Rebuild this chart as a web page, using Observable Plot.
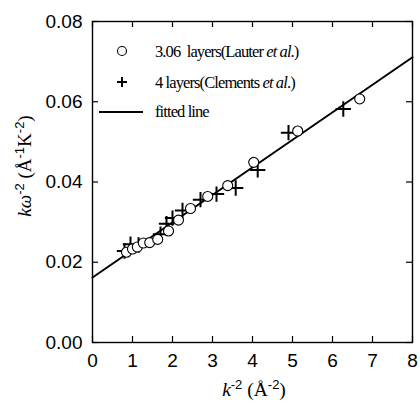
<!DOCTYPE html>
<html><head><meta charset="utf-8">
<script src="https://cdn.jsdelivr.net/npm/d3@7"></script>
<script src="https://cdn.jsdelivr.net/npm/@observablehq/plot@0.6"></script>
<style>body{margin:0;background:#fff}</style>
</head><body><div id="chart"></div>
<script>
const lauterX = [0.85, 1.0, 1.12, 1.27, 1.43, 1.63, 1.9, 2.15, 2.45, 2.88, 3.38, 4.03, 5.13, 6.68];
const lauterY = [0.0225, 0.0233, 0.0238, 0.0248, 0.0249, 0.0257, 0.0278, 0.0305, 0.0334, 0.0364, 0.0391, 0.0449, 0.0527, 0.0607];
const clementsX = [0.8, 0.95, 1.15, 1.7, 1.85, 2.0, 2.25, 2.7, 3.1, 3.58, 4.13, 4.9, 6.27];
const clementsY = [0.0228, 0.0245, 0.0243, 0.0270, 0.0296, 0.0310, 0.0329, 0.0356, 0.0370, 0.0385, 0.0430, 0.0523, 0.0582];
const fitX = [0, 8];
const fitY = [0.0162, 0.0711];
const xTicks = [0, 1, 2, 3, 4, 5, 6, 7, 8];
const yTicks = [0, 0.02, 0.04, 0.06, 0.08];

const lauter = lauterX.map((x, i) => ({x, y: lauterY[i]}));
const clements = clementsX.map((x, i) => ({x, y: clementsY[i]}));
const fit = fitX.map((x, i) => ({x, y: fitY[i]}));

const W = 420, H = 404, ML = 92, MR = 8, MT = 21, MB = 62;
const innerW = W - ML - MR, innerH = H - MT - MB, TL = 6;

const plot = Plot.plot({
  width: W, height: H,
  marginLeft: ML, marginRight: MR, marginTop: MT, marginBottom: MB,
  style: {fontFamily: "'Liberation Sans', Arial, sans-serif", fontSize: "19px", background: "#fff", color: "black"},
  x: {domain: [0, 8]},
  y: {domain: [0, 0.08]},
  marks: [
    Plot.axisX(xTicks, {anchor: "bottom", tickSize: 0, tickPadding: 11, label: null, tickFormat: d => String(d), fontSize: 19}),
    Plot.axisY(yTicks, {anchor: "left", tickSize: 0, tickPadding: 10, label: null, tickFormat: d3.format(".2f"), fontSize: 19}),
    // inward ticks on all four sides
    Plot.tickX(xTicks, {x: d => d, insetTop: innerH - TL, stroke: "black", strokeWidth: 1.2}),
    Plot.tickX(xTicks, {x: d => d, insetBottom: innerH - TL, stroke: "black", strokeWidth: 1.2}),
    Plot.tickY(yTicks, {y: d => d, insetRight: innerW - TL, stroke: "black", strokeWidth: 1.2}),
    Plot.tickY(yTicks, {y: d => d, insetLeft: innerW - TL, stroke: "black", strokeWidth: 1.2}),
    Plot.frame({stroke: "black", strokeWidth: 1.4}),
    Plot.line(fit, {x: "x", y: "y", stroke: "black", strokeWidth: 2}),
    Plot.dot(clements, {x: "x", y: "y", symbol: "plus", r: 5, stroke: "black", strokeWidth: 2}),
    Plot.dot(lauter, {x: "x", y: "y", r: 5, stroke: "black", strokeWidth: 1.1, fill: "white"})
  ]
});
document.getElementById("chart").appendChild(plot);

const svg = d3.select(plot);
const serif = "'Liberation Serif', 'Times New Roman', serif";
const sans = "'Liberation Sans', Arial, sans-serif";
function sup(t, s) {
  t.append("tspan").attr("dy", -7).attr("font-size", 13).attr("font-family", sans).text(s);
}
function down(t, s, italic) {
  const ts = t.append("tspan").attr("dy", 7).text(s);
  if (italic) ts.attr("font-style", "italic");
}
// x axis title
const xt = svg.append("text").attr("x", 254).attr("y", 396).attr("text-anchor", "middle")
  .attr("font-family", serif).attr("font-size", 19.5).attr("fill", "black");
xt.append("tspan").attr("font-style", "italic").text("k");
sup(xt, "-2");
down(xt, " (Å");
sup(xt, "-2");
down(xt, ")");
// y axis title
const yt = svg.append("text").attr("transform", "translate(31,166) rotate(-90)").attr("text-anchor", "middle")
  .attr("font-family", serif).attr("font-size", 19).attr("fill", "black");
yt.append("tspan").attr("font-style", "italic").text("kω");
sup(yt, "-2");
down(yt, " (Å");
sup(yt, "-1");
down(yt, "K");
sup(yt, "-2");
down(yt, ")");

// legend
const lg = svg.append("g").attr("font-family", serif).attr("font-size", 16.5).attr("fill", "black")
  .attr("text-anchor", "start").attr("letter-spacing", -0.9);
lg.append("circle").attr("cx", 122).attr("cy", 51).attr("r", 4.5).attr("fill", "white").attr("stroke", "black").attr("stroke-width", 1.1);
lg.append("path").attr("d", "M117,82h10M122,77v10").attr("stroke", "black").attr("stroke-width", 2);
lg.append("line").attr("x1", 99).attr("x2", 143).attr("y1", 112).attr("y2", 112).attr("stroke", "black").attr("stroke-width", 2);
const t1 = lg.append("text").attr("x", 155).attr("y", 57);
t1.append("tspan").text("3.06  layers(Lauter ");
t1.append("tspan").attr("font-style", "italic").text("et al");
t1.append("tspan").text(".)");
const t2 = lg.append("text").attr("x", 155).attr("y", 88);
t2.append("tspan").text("4 layers(Clements ");
t2.append("tspan").attr("font-style", "italic").text("et al");
t2.append("tspan").text(".)");
lg.append("text").attr("x", 155).attr("y", 117).text("fitted line");
</script></body></html>
